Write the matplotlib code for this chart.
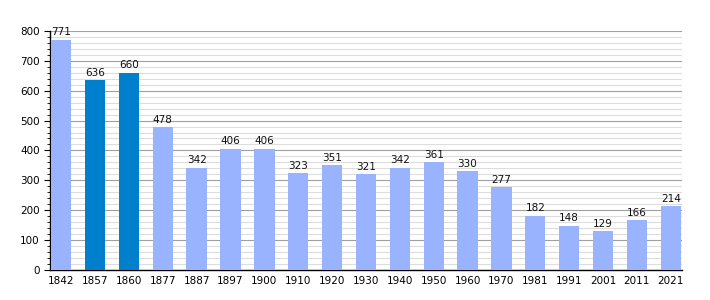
import matplotlib
matplotlib.use('Agg')
import matplotlib.pyplot as plt
from matplotlib.ticker import MultipleLocator

years = ['1842', '1857', '1860', '1877', '1887', '1897', '1900', '1910', '1920', '1930',
         '1940', '1950', '1960', '1970', '1981', '1991', '2001', '2011', '2021']
population = [771, 636, 660, 478, 342, 406, 406, 323, 351, 321,
              342, 361, 330, 277, 182, 148, 129, 166, 214]
highlight = ['1857', '1860']

light = '#99b3ff'
dark = '#0080cc'
colors = [dark if y in highlight else light for y in years]

fig = plt.figure(figsize=(7.1, 3.0), dpi=100)
ax = fig.add_axes([0.0704, 0.1, 0.890, 0.797])

x = range(len(years))
bars = ax.bar(x, population, width=0.6, color=colors, zorder=3)
for xi, v in zip(x, population):
    ax.text(xi, v + 8, str(v), ha='center', va='bottom', fontsize=7.5, color='#111111', zorder=4)

ax.set_xlim(-0.33, len(years) - 0.67)
ax.set_ylim(0, 800)
ax.set_xticks(list(x))
ax.set_xticklabels(years)
ax.yaxis.set_major_locator(MultipleLocator(100))
ax.yaxis.set_minor_locator(MultipleLocator(20))
ax.grid(axis='y', which='major', color='#a0a0a0', linewidth=0.8, zorder=1)
ax.grid(axis='y', which='minor', color='#dddddd', linewidth=0.8, zorder=1)
ax.tick_params(axis='x', length=0, labelsize=7.5, pad=4)
ax.tick_params(axis='y', which='major', length=4, labelsize=7.5, direction='out')
ax.tick_params(axis='y', which='minor', length=2, direction='out')
for s in ['top', 'right']:
    ax.spines[s].set_visible(False)
ax.spines['left'].set_linewidth(1)
ax.spines['bottom'].set_linewidth(1)

fig.savefig('out.png', dpi=100)
